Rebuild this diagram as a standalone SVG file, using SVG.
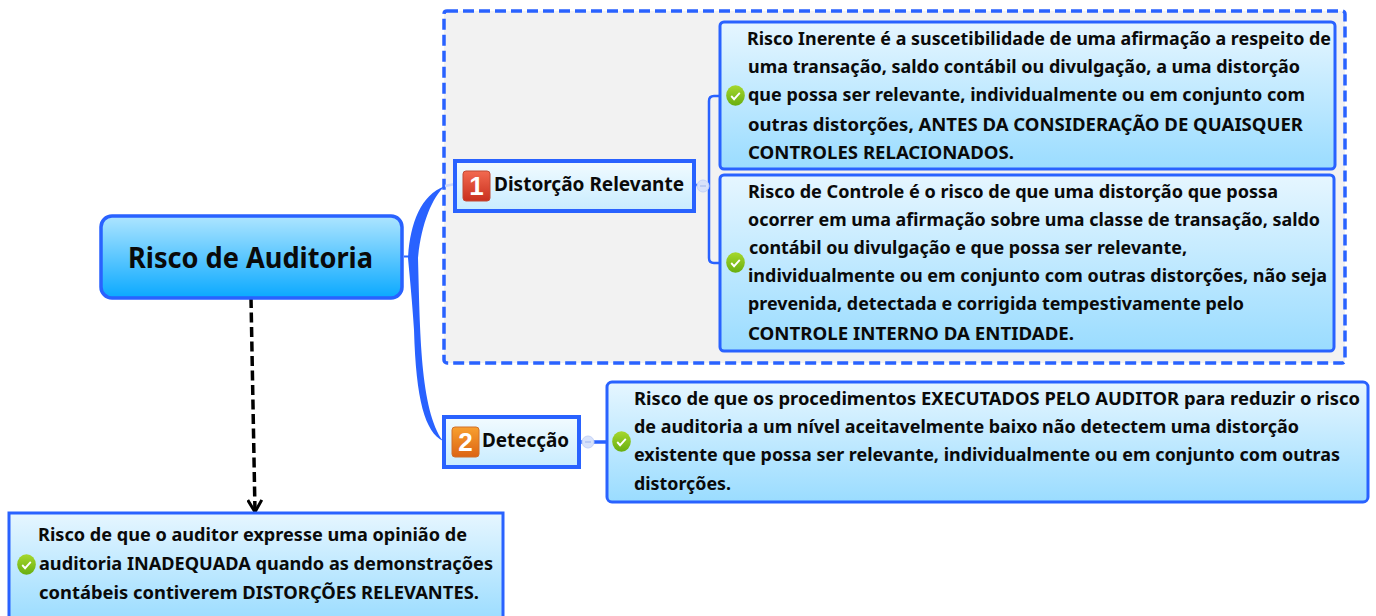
<svg xmlns="http://www.w3.org/2000/svg" width="1376" height="616" viewBox="0 0 1376 616">
<style>
text{font-family:"Noto Sans","DejaVu Sans",sans-serif;font-weight:700;fill:#0a0a0a;font-size:18px}
.b{stroke:#2962ff;stroke-width:3;fill:url(#light)}
.s{stroke:#2962ff;stroke-width:4;fill:url(#pale)}
.c{fill:none;stroke:#2962ff;stroke-width:2.5}
.d{font-family:"Liberation Sans",sans-serif;fill:#fff;font-size:26px}
</style>
<defs>
<linearGradient id="light" x1="0" y1="0" x2="0" y2="1"><stop offset="0" stop-color="#e6f6ff"/><stop offset="1" stop-color="#9adcff"/></linearGradient>
<linearGradient id="pale" x1="0" y1="0" x2="0" y2="1"><stop offset="0" stop-color="#f2fbff"/><stop offset="1" stop-color="#c8ecff"/></linearGradient>
<linearGradient id="root" x1="0" y1="0" x2="0" y2="1"><stop offset="0" stop-color="#aee5ff"/><stop offset="1" stop-color="#0aa9ff"/></linearGradient>
<linearGradient id="red" x1="0" y1="0" x2="0" y2="1"><stop offset="0" stop-color="#f26a50"/><stop offset="1" stop-color="#c9301f"/></linearGradient>
<linearGradient id="org" x1="0" y1="0" x2="0" y2="1"><stop offset="0" stop-color="#f8a030"/><stop offset="1" stop-color="#dc6414"/></linearGradient>
<linearGradient id="grn" x1="0" y1="0" x2="0" y2="1"><stop offset="0" stop-color="#a6d82e"/><stop offset="1" stop-color="#68ae10"/></linearGradient>
<symbol id="chk" viewBox="0 0 20 20" preserveAspectRatio="none" overflow="visible"><circle cx="10" cy="10" r="9.8" fill="url(#grn)"/><path d="M5.500 10.500l3 3 6-6" fill="none" stroke="#fff" stroke-width="2"/></symbol>
<marker id="arr" markerUnits="userSpaceOnUse" markerWidth="16" markerHeight="16" refX="13" refY="8" orient="auto"><path d="M1 1L13 8L1 15" fill="none" stroke="#000" stroke-width="3"/></marker>
</defs>
<rect id="boundary" x="444" y="11" width="901" height="352" rx="3" fill="#f2f2f2" stroke="#2962ff" stroke-width="3.5" stroke-dasharray="11 5"/>
<g id="connectors">
<path d="M408 258C410 225 420 195 445 186C432 197 421 225 418 258C420 330 420 410 443 441C425 432 416 400 414 330C412 300 410 280 408 258Z" fill="#2962ff"/>
<path d="M404 256.500H414" stroke="#2962ff" stroke-width="2"/>
<path d="M445 186L455 184" stroke="#c9d6fa" stroke-width="2.500"/>
<path d="M694 185H702" class="c"/>
<path d="M720 96H714Q709 96 709 101V258Q709 263 714 263H720" class="c"/>
<path d="M580 442H608" class="c" style="stroke-width:3.500"/>
<path d="M251 298L255 512" fill="none" stroke="#000" stroke-width="3.500" stroke-dasharray="10 4.500" marker-end="url(#arr)"/>
<circle cx="703" cy="186" r="6" fill="#d8e2fa" stroke="#c5d3f8"/><path d="M700 186h6" stroke="#9db4ee"/>
<circle cx="588" cy="442" r="6" fill="#d8e2fa" stroke="#c5d3f8"/><path d="M585 442h6" stroke="#9db4ee"/>
</g>
<g id="root-node"><rect x="101" y="216" width="301" height="82" rx="11" fill="url(#root)" stroke="#2962ff" stroke-width="3.500"/>
<text x="128" y="268" style="font-size:28px" textLength="245" lengthAdjust="spacingAndGlyphs">Risco de Auditoria</text></g>
<g id="n1"><rect class="s" x="455" y="161" width="239" height="50"/>
<rect x="463" y="171" width="27" height="30" rx="3" fill="url(#red)" stroke="#c24a35"/><text x="476.500" y="195" text-anchor="middle" class="d">1</text>
<text x="494" y="191" style="font-size:19.500px" textLength="190" lengthAdjust="spacingAndGlyphs">Distorção Relevante</text></g>
<g id="n2"><rect class="s" x="444" y="417" width="135" height="50"/>
<rect x="452" y="427" width="27" height="30" rx="3" fill="url(#org)" stroke="#d0702a"/><text x="465.500" y="451" text-anchor="middle" class="d">2</text>
<text x="482" y="447" style="font-size:19.500px" textLength="87" lengthAdjust="spacingAndGlyphs">Detecção</text></g>
<g id="d1"><rect class="b" x="720" y="22" width="615" height="147" rx="4"/><use href="#chk" x="726" y="85" width="19" height="21"/>
<text x="747" y="45" textLength="584" lengthAdjust="spacingAndGlyphs">Risco Inerente é a suscetibilidade de uma afirmação a respeito de</text>
<text x="748" y="73" textLength="552" lengthAdjust="spacingAndGlyphs">uma transação, saldo contábil ou divulgação, a uma distorção</text>
<text x="748" y="101" textLength="557" lengthAdjust="spacingAndGlyphs">que possa ser relevante, individualmente ou em conjunto com</text>
<text x="748" y="131" textLength="555" lengthAdjust="spacingAndGlyphs">outras distorções, ANTES DA CONSIDERAÇÃO DE QUAISQUER</text>
<text x="748" y="159" textLength="266" lengthAdjust="spacingAndGlyphs">CONTROLES RELACIONADOS.</text></g>
<g id="d2"><rect class="b" x="720" y="175" width="614" height="176" rx="4"/><use href="#chk" x="726" y="252" width="19" height="21"/>
<text x="748" y="198" textLength="530" lengthAdjust="spacingAndGlyphs">Risco de Controle é o risco de que uma distorção que possa</text>
<text x="748" y="226" textLength="572" lengthAdjust="spacingAndGlyphs">ocorrer em uma afirmação sobre uma classe de transação, saldo</text>
<text x="749" y="254" textLength="438" lengthAdjust="spacingAndGlyphs">contábil ou divulgação e que possa ser relevante,</text>
<text x="748" y="282" textLength="579" lengthAdjust="spacingAndGlyphs">individualmente ou em conjunto com outras distorções, não seja</text>
<text x="748" y="310" textLength="496" lengthAdjust="spacingAndGlyphs">prevenida, detectada e corrigida tempestivamente pelo</text>
<text x="748" y="340" textLength="326" lengthAdjust="spacingAndGlyphs">CONTROLE INTERNO DA ENTIDADE.</text></g>
<g id="d3"><rect class="b" x="607" y="382" width="761" height="120" rx="5"/><use href="#chk" x="612" y="431" width="19" height="21"/>
<text x="634" y="405" textLength="726" lengthAdjust="spacingAndGlyphs">Risco de que os procedimentos EXECUTADOS PELO AUDITOR para reduzir o risco</text>
<text x="634" y="433" textLength="665" lengthAdjust="spacingAndGlyphs">de auditoria a um nível aceitavelmente baixo não detectem uma distorção</text>
<text x="634" y="461" textLength="706" lengthAdjust="spacingAndGlyphs">existente que possa ser relevante, individualmente ou em conjunto com outras</text>
<text x="634" y="490" textLength="97" lengthAdjust="spacingAndGlyphs">distorções.</text></g>
<g id="d4"><rect class="b" x="9" y="513" width="494" height="110"/><use href="#chk" x="17" y="554" width="19" height="21"/>
<text x="38" y="541" textLength="429" lengthAdjust="spacingAndGlyphs">Risco de que o auditor expresse uma opinião de</text>
<text x="39" y="570" textLength="454" lengthAdjust="spacingAndGlyphs">auditoria INADEQUADA quando as demonstrações</text>
<text x="39" y="599" textLength="440" lengthAdjust="spacingAndGlyphs">contábeis contiverem DISTORÇÕES RELEVANTES.</text></g>
</svg>
